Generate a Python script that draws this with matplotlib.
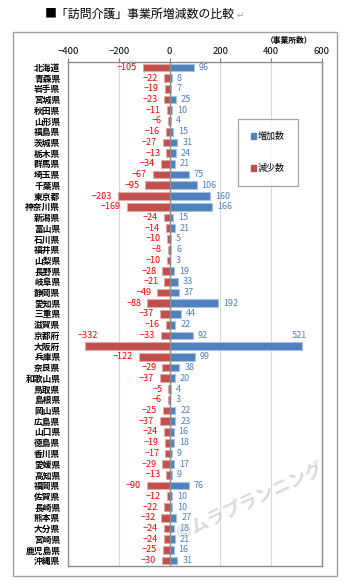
import matplotlib
matplotlib.use("Agg")
import matplotlib.pyplot as plt
from matplotlib.patches import Patch, Rectangle

plt.rcParams['font.family'] = ['Noto Sans CJK JP', 'DejaVu Sans']

prefectures = [
    "北海道", "青森県", "岩手県", "宮城県", "秋田県", "山形県", "福島県", "茨城県",
    "栃木県", "群馬県", "埼玉県", "千葉県", "東京都", "神奈川県", "新潟県", "富山県",
    "石川県", "福井県", "山梨県", "長野県", "岐阜県", "静岡県", "愛知県", "三重県",
    "滋賀県", "京都府", "大阪府", "兵庫県", "奈良県", "和歌山県", "鳥取県", "島根県",
    "岡山県", "広島県", "山口県", "徳島県", "香川県", "愛媛県", "高知県", "福岡県",
    "佐賀県", "長崎県", "熊本県", "大分県", "宮崎県", "鹿児島県", "沖縄県",
]
increase = [
    96, 8, 7, 25, 10, 4, 15, 31, 24, 21, 75, 106, 160, 166, 15, 21,
    5, 6, 3, 19, 33, 37, 192, 44, 22, 92, 521, 99, 38, 20, 4, 3,
    22, 23, 16, 18, 9, 17, 9, 76, 10, 10, 27, 18, 21, 16, 31,
]
decrease = [
    -105, -22, -19, -23, -11, -6, -16, -27, -13, -34, -67, -95, -203, -169, -24, -14,
    -10, -8, -10, -28, -21, -49, -88, -37, -16, -33, -332, -122, -29, -37, -5, -6,
    -25, -37, -24, -19, -17, -29, -13, -90, -12, -22, -32, -24, -24, -25, -30,
]
x_ticks = [-400, -200, 0, 200, 400, 600]
# rows whose value labels sit above the bar end instead of beside it
raised_labels = ["大阪府"]

W, H = 349, 587
BLUE = "#4f81bd"
RED = "#c0504d"

fig = plt.figure(figsize=(W / 100, H / 100), dpi=100)
fig.patch.set_facecolor("white")

# outer chart frame
fig.patches.append(Rectangle((13 / W, 1 - 576 / H), 324 / W, 544 / H,
                             transform=fig.transFigure, fill=False,
                             edgecolor="#a0a0a0", linewidth=1.0))

ax = fig.add_axes([68 / W, 1 - 566 / H, 254 / W, 504 / H])
n = len(prefectures)
ypos = list(range(n))

ax.barh(ypos, increase, height=0.72, color=BLUE, edgecolor="#a9c1e0",
        linewidth=0.8, zorder=2, label="増加数")
ax.barh(ypos, decrease, height=0.72, color=RED, edgecolor="#e0a9a7",
        linewidth=0.8, zorder=2, label="減少数")

for i, name in enumerate(prefectures):
    inc, dec = increase[i], decrease[i]
    if name in raised_labels:
        ax.annotate(f"{inc}", (inc, i - 1), xytext=(-2, 0), textcoords="offset points",
                    ha="center", va="center", fontsize=6.5, color=BLUE)
        ax.annotate(f"{dec}".replace("-", "−"), (dec, i - 1), xytext=(2, 0),
                    textcoords="offset points", ha="center", va="center",
                    fontsize=6.5, color="red")
        continue
    ax.annotate(f"{inc}", (inc, i), xytext=(3.6, 0), textcoords="offset points",
                ha="left", va="center", fontsize=6.5, color=BLUE)
    ax.annotate(f"{dec}".replace("-", "−"), (dec, i), xytext=(-4.3, 0),
                textcoords="offset points", ha="right", va="center",
                fontsize=6.5, color="red")

ax.set_xlim(-400, 600)
ax.set_ylim(n - 0.5, -0.5)
ax.set_xticks(x_ticks)
ax.set_xticklabels([str(t).replace("-", "−") for t in x_ticks], fontsize=6.8)
ax.xaxis.tick_top()
ax.tick_params(axis="x", length=3, color="#808080", pad=1.5)
ax.set_yticks(ypos)
ax.set_yticklabels(prefectures, fontsize=6.3, fontweight="bold")
ax.tick_params(axis="y", length=0, pad=5.5)

for t in [-200, 200, 400]:
    ax.axvline(t, color="#d9d9d9", linewidth=0.8, zorder=1)
ax.axvline(0, color="#8c8c8c", linewidth=1.0, zorder=3)
for side in ["top", "bottom", "left", "right"]:
    ax.spines[side].set_color("#8c8c8c")
    ax.spines[side].set_linewidth(1.0)

ax.legend(handles=[Patch(color=BLUE, label="増加数"), Patch(color=RED, label="減少数")],
          loc="upper left", bbox_to_anchor=(238 / W, 1 - 119 / H),
          bbox_transform=fig.transFigure, fontsize=6.5, frameon=True, fancybox=False,
          edgecolor="#8c8c8c", handlelength=0.6, handleheight=0.6, handletextpad=0.2,
          labelspacing=2.6, borderpad=1.4, borderaxespad=0)
ax.get_legend().get_frame().set_linewidth(0.9)

title = fig.text(45 / W, 1 - 14 / H, "■「訪問介護」事業所増減数の比較", fontsize=8.6,
                 ha="left", va="center")
# return mark right after the title text
fig.get_axes()[0].annotate("↵", xy=(1, 0.5), xycoords=title, xytext=(1, -1),
                           textcoords="offset points", fontsize=6.5, color="#a0a0a0",
                           ha="left", va="center", family=["DejaVu Sans"],
                           annotation_clip=False)
fig.text(312 / W, 1 - 40 / H, "（事業所数）", fontsize=5.6, ha="right", va="center",
         fontweight="bold")

fig.text(250 / W, 1 - 502 / H, "©ムラプランニング", fontsize=13, color="#c8c8c8",
         alpha=0.7, rotation=25, ha="center", va="center", fontweight="bold")

fig.savefig("out.png", dpi=100)
